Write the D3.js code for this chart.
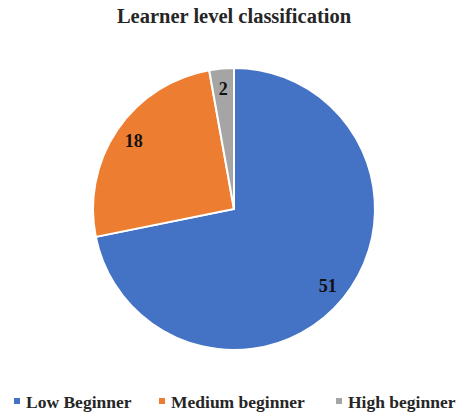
<!DOCTYPE html>
<html><head><meta charset="utf-8">
<script src="https://cdn.jsdelivr.net/npm/d3@7"></script>
<style>body{margin:0;background:#fff;}svg{display:block;} text{font-family:"Liberation Serif","DejaVu Serif",serif;}</style>
</head><body>
<svg id="c" width="456" height="414"></svg>
<script>
const categories = ["Low Beginner", "Medium beginner", "High beginner"];
const values = [51, 18, 2];
const colors = ["#4472C4", "#ED7D31", "#A5A5A5"];
const title = "Learner level classification";

const svg = d3.select("#c");
svg.append("text").attr("x", 234).attr("y", 23).attr("text-anchor", "middle")
  .style("font-weight", "bold").style("font-size", "20.5px")
  .attr("fill", "#262626").text(title);

const cx = 234, cy = 209, r = 141;
const data = categories.map((c, i) => ({c, v: values[i], col: colors[i]}));
const pie = d3.pie().value(d => d.v).sort(null);
const arcs = pie(data);
const arc = d3.arc().innerRadius(0).outerRadius(r);
const labelArc = d3.arc().innerRadius(r * 0.86).outerRadius(r * 0.86);
const g = svg.append("g").attr("transform", `translate(${cx},${cy})`);
g.selectAll("path").data(arcs).join("path").attr("d", arc)
  .attr("fill", d => d.data.col).attr("stroke", "#fff").attr("stroke-width", 2);
g.selectAll("text").data(arcs).join("text")
  .attr("transform", d => `translate(${labelArc.centroid(d)})`)
  .attr("text-anchor", "middle").attr("dy", "0.35em")
  .style("font-weight", "bold").style("font-size", "18px")
  .attr("fill", "#111").text(d => d.data.v);

const legX = [14, 159, 336];
const lg = svg.append("g");
data.forEach((d, i) => {
  lg.append("rect").attr("x", legX[i]).attr("y", 398).attr("width", 6).attr("height", 6).attr("fill", d.col);
  lg.append("text").attr("x", legX[i] + 12).attr("y", 408)
    .style("font-weight", "bold").style("font-size", "17.5px")
    .attr("fill", "#262626").text(d.c);
});
</script>
</body></html>
